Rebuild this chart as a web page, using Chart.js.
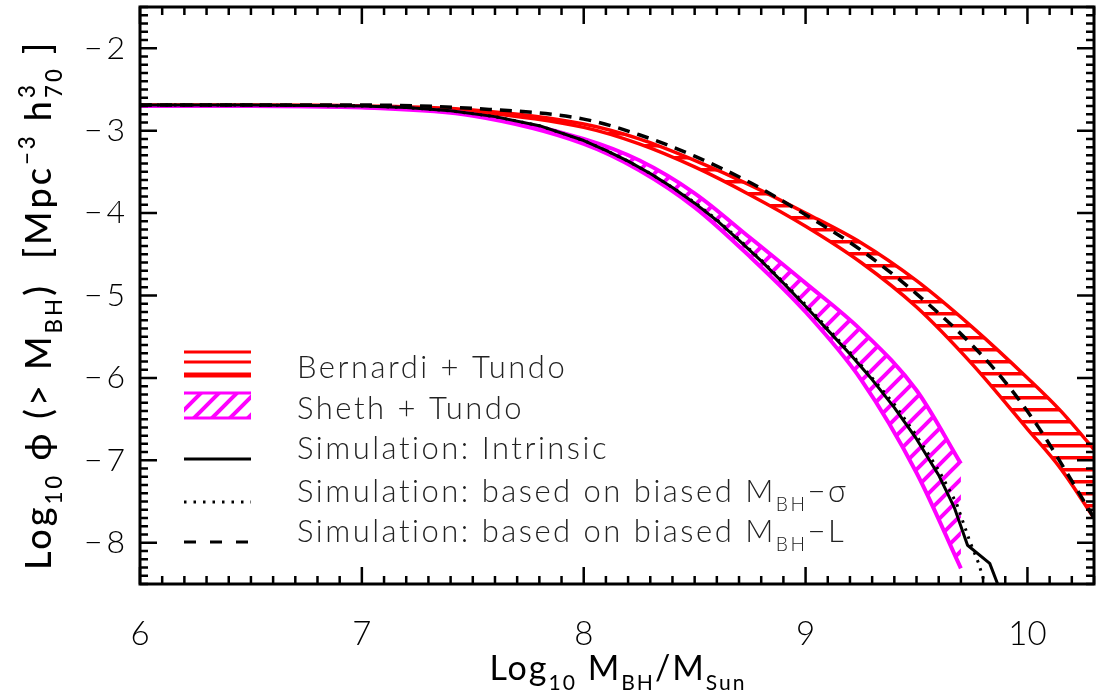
<!DOCTYPE html>
<html>
<head>
<meta charset="utf-8">
<script src="https://cdn.jsdelivr.net/npm/chart.js@4.4.1/dist/chart.umd.min.js"></script>
<style>
  html, body { margin: 0; padding: 0; background: #fff; }
  canvas { display: block; }
</style>
</head>
<body>
<canvas id="bh-mass" width="1096" height="694"></canvas>
<script>
// Bernardi + Tundo band (upper / lower edge)
const bernardiX = [6.0, 6.5, 7.0, 7.5, 8.0, 8.25, 8.5, 8.75, 9.0, 9.25, 9.5, 9.75, 10.0, 10.15, 10.3, 10.4];
const bernardiUpper = [-2.69, -2.69, -2.70, -2.75, -2.92, -3.10, -3.36, -3.66, -4.00, -4.36, -4.82, -5.38, -6.00, -6.40, -6.87, -7.20];
const bernardiLower = [-2.70, -2.70, -2.71, -2.77, -2.96, -3.16, -3.44, -3.78, -4.16, -4.60, -5.14, -5.83, -6.62, -7.10, -7.70, -8.10];

// Sheth + Tundo band
const shethX = [6.0, 6.5, 7.0, 7.5, 8.0, 8.25, 8.5, 8.75, 9.0, 9.25, 9.5, 9.7];
const shethUpper = [-2.70, -2.70, -2.71, -2.80, -3.10, -3.36, -3.76, -4.30, -4.85, -5.42, -6.15, -7.04];
const shethLower = [-2.70, -2.70, -2.72, -2.82, -3.16, -3.48, -3.93, -4.53, -5.20, -6.02, -7.15, -8.31];

// simulations
const intrinsicX = [6.0, 6.5, 7.0, 7.2, 7.4, 7.6, 7.8, 8.0, 8.1, 8.2, 8.3, 8.4, 8.5, 8.6, 8.7, 8.8, 8.9, 9.0, 9.1, 9.2, 9.3, 9.4, 9.5, 9.6, 9.67, 9.73, 9.83, 9.88];
const intrinsicY = [-2.69, -2.69, -2.70, -2.72, -2.76, -2.83, -2.94, -3.12, -3.24, -3.37, -3.52, -3.69, -3.88, -4.09, -4.33, -4.58, -4.85, -5.13, -5.42, -5.71, -6.02, -6.36, -6.74, -7.18, -7.57, -8.03, -8.25, -8.60];
const sigmaX = [6.0, 6.5, 7.0, 7.2, 7.4, 7.6, 7.8, 8.0, 8.1, 8.2, 8.3, 8.4, 8.5, 8.6, 8.7, 8.8, 8.9, 9.0, 9.1, 9.2, 9.3, 9.4, 9.5, 9.6, 9.68, 9.74, 9.78, 9.82];
const sigmaY = [-2.69, -2.69, -2.70, -2.72, -2.76, -2.83, -2.94, -3.12, -3.24, -3.37, -3.52, -3.69, -3.87, -4.08, -4.32, -4.57, -4.84, -5.11, -5.40, -5.69, -6.00, -6.32, -6.70, -7.12, -7.52, -7.98, -8.25, -8.60];
const lumX = [6.0, 6.5, 7.0, 7.5, 8.0, 8.25, 8.5, 8.75, 9.0, 9.25, 9.5, 9.75, 9.9, 10.05, 10.2, 10.3, 10.4];
const lumY = [-2.69, -2.69, -2.69, -2.73, -2.86, -3.05, -3.31, -3.63, -4.02, -4.45, -4.98, -5.60, -6.05, -6.60, -7.25, -7.70, -8.15];

const xTickValues = [6, 7, 8, 9, 10];
const yTickValues = [-8, -7, -6, -5, -4, -3, -2];

const FONT = 'Lato, "DejaVu Sans", sans-serif';

function pts(xs, ys) {
  return xs.map((x, i) => ({x: x, y: ys[i]}));
}

function hatchPattern(type, color) {
  const c = document.createElement('canvas');
  const p = c.getContext('2d');
  if (type === 'horizontal') {
    c.width = 16; c.height = 12;
    p.fillStyle = color;
    p.fillRect(0, 0, 16, 3.5);
  } else {
    const s = 18;
    c.width = s; c.height = s;
    p.strokeStyle = color;
    p.lineWidth = 4;
    p.beginPath();
    p.moveTo(-2, s + 2); p.lineTo(s + 2, -2);
    p.moveTo(-4, 4); p.lineTo(4, -4);
    p.moveTo(s - 4, s + 4); p.lineTo(s + 4, s - 4);
    p.stroke();
  }
  return c.getContext('2d').createPattern(c, 'repeat');
}

const redHatch = hatchPattern('horizontal', '#ff0000');
const magHatch = hatchPattern('diagonal', '#ff00ff');

function setFont(ctx, size, weight) {
  ctx.font = weight + ' ' + size + 'px ' + FONT;
}

// parts: {t, s: 'sub'|'sup', stack: true -> next part shares x}
function layoutRich(ctx, parts, size, weight, draw, x0, y) {
  let x = x0, stackStart = null, stackW = 0;
  for (const p of parts) {
    const fs = p.s ? size * 0.62 : size;
    const dy = p.s === 'sub' ? size * 0.3 : (p.s === 'sup' ? -size * 0.45 : 0);
    setFont(ctx, fs, weight);
    const w = ctx.measureText(p.t).width;
    if (draw) ctx.fillText(p.t, x, y + dy);
    if (p.stack) {
      stackStart = x; stackW = w;
    } else if (stackStart !== null) {
      x = Math.max(x + w, stackStart + stackW);
      stackStart = null;
    } else {
      x += w;
    }
  }
  return x - x0;
}

function drawRich(ctx, parts, x, y, size, weight, align, spacing) {
  ctx.save();
  ctx.textAlign = 'left';
  ctx.textBaseline = 'alphabetic';
  ctx.letterSpacing = (spacing || 0) + 'px';
  const total = layoutRich(ctx, parts, size, weight, false, 0, 0);
  const start = align === 'center' ? x - total / 2 : x;
  layoutRich(ctx, parts, size, weight, true, start, y);
  ctx.restore();
}

const frameAndTicks = {
  id: 'frameAndTicks',
  afterDatasetsDraw(chart) {
    const {ctx, chartArea, scales} = chart;
    const {left, right, top, bottom} = chartArea;
    ctx.save();
    ctx.strokeStyle = '#000';
    ctx.lineWidth = 2.5;
    ctx.beginPath();
    for (let i = 60; i <= 103; i++) {
      const px = scales.x.getPixelForValue(i / 10);
      const len = i % 10 === 0 ? 17 : 8;
      ctx.moveTo(px, bottom); ctx.lineTo(px, bottom - len);
      ctx.moveTo(px, top); ctx.lineTo(px, top + len);
    }
    for (let i = -85; i <= -15; i++) {
      const py = scales.y.getPixelForValue(i / 10);
      const len = i % 10 === 0 ? 17 : 8;
      ctx.moveTo(left, py); ctx.lineTo(left + len, py);
      ctx.moveTo(right, py); ctx.lineTo(right - len, py);
    }
    ctx.stroke();
    ctx.lineWidth = 3;
    ctx.strokeRect(left, top, right - left, bottom - top);
    ctx.restore();
  }
};

const titlesAndLegend = {
  id: 'titlesAndLegend',
  afterDraw(chart) {
    const {ctx} = chart;
    ctx.save();
    ctx.fillStyle = '#000';

    // x title
    drawRich(ctx, [
      {t: 'Log'}, {t: '10', s: 'sub'}, {t: ' M'}, {t: 'BH', s: 'sub'}, {t: '/M'}, {t: 'Sun', s: 'sub'}
    ], 618, 680, 34, 400, 'center', 2);

    // y title
    ctx.save();
    ctx.translate(51, 305);
    ctx.rotate(-Math.PI / 2);
    drawRich(ctx, [
      {t: 'Log'}, {t: '10', s: 'sub'}, {t: ' \u03d5 (> M'}, {t: 'BH', s: 'sub'},
      {t: ')  [Mpc'}, {t: '\u22123', s: 'sup'}, {t: ' h'}, {t: '3', s: 'sup', stack: true},
      {t: '70', s: 'sub'}, {t: ' ]'}
    ], 0, 0, 36, 500, 'center', 3);
    ctx.restore();

    // legend swatches
    const sx0 = 184, sx1 = 251;
    ctx.fillStyle = '#ff0000';
    ctx.fillRect(sx0, 350.5, sx1 - sx0, 3);
    ctx.fillRect(sx0, 360.5, sx1 - sx0, 3);
    ctx.fillRect(sx0, 372.5, sx1 - sx0, 5);

    ctx.fillStyle = magHatch;
    ctx.fillRect(sx0, 393, sx1 - sx0, 25);
    ctx.fillStyle = '#ff00ff';
    ctx.fillRect(sx0, 391.5, sx1 - sx0, 3);
    ctx.fillRect(sx0, 416.5, sx1 - sx0, 3);

    ctx.strokeStyle = '#000';
    ctx.lineWidth = 3;
    ctx.beginPath(); ctx.moveTo(sx0, 459); ctx.lineTo(sx1, 459); ctx.stroke();
    ctx.setLineDash([2.5, 7]);
    ctx.beginPath(); ctx.moveTo(sx0, 502); ctx.lineTo(sx1, 502); ctx.stroke();
    ctx.setLineDash([12, 14]);
    ctx.beginPath(); ctx.moveTo(sx0, 542); ctx.lineTo(sx1, 542); ctx.stroke();
    ctx.setLineDash([]);

    // legend text
    ctx.fillStyle = '#222';
    const lx = 297, fs = 31, sp = 2.5;
    drawRich(ctx, [{t: 'Bernardi + Tundo'}], lx, 378, fs, 300, 'left', sp);
    drawRich(ctx, [{t: 'Sheth + Tundo'}], lx, 419, fs, 300, 'left', sp);
    drawRich(ctx, [{t: 'Simulation: Intrinsic'}], lx, 459, fs, 300, 'left', sp);
    drawRich(ctx, [{t: 'Simulation: based on biased M'}, {t: 'BH', s: 'sub'}, {t: '\u2212\u03c3'}], lx, 502, fs, 300, 'left', sp);
    drawRich(ctx, [{t: 'Simulation: based on biased M'}, {t: 'BH', s: 'sub'}, {t: '\u2212L'}], lx, 542, fs, 300, 'left', sp);
    ctx.restore();
  }
};

const curveBase = {pointRadius: 0, cubicInterpolationMode: 'monotone', fill: false};
const polyBase = {pointRadius: 0, tension: 0, fill: false};

new Chart(document.getElementById('bh-mass'), {
  type: 'line',
  data: {
    datasets: [
      Object.assign({}, polyBase, {label: 'Simulation: Intrinsic', data: pts(intrinsicX, intrinsicY),
        borderColor: '#000', borderWidth: 3, borderJoinStyle: 'round'}),
      Object.assign({}, polyBase, {label: 'Simulation: based on biased MBH-sigma', data: pts(sigmaX, sigmaY),
        borderColor: '#000', borderWidth: 3, borderDash: [2.5, 6]}),
      Object.assign({}, curveBase, {label: 'Simulation: based on biased MBH-L', data: pts(lumX, lumY),
        borderColor: '#000', borderWidth: 3.5, borderDash: [12, 8]}),
      Object.assign({}, curveBase, {label: 'Sheth + Tundo (upper)', data: pts(shethX, shethUpper),
        borderColor: '#ff00ff', borderWidth: 4, fill: '+1', backgroundColor: magHatch}),
      Object.assign({}, curveBase, {label: 'Sheth + Tundo (lower)', data: pts(shethX, shethLower),
        borderColor: '#ff00ff', borderWidth: 4}),
      Object.assign({}, curveBase, {label: 'Bernardi + Tundo (upper)', data: pts(bernardiX, bernardiUpper),
        borderColor: '#ff0000', borderWidth: 3.5, fill: '+1', backgroundColor: redHatch}),
      Object.assign({}, curveBase, {label: 'Bernardi + Tundo (lower)', data: pts(bernardiX, bernardiLower),
        borderColor: '#ff0000', borderWidth: 3.5})
    ]
  },
  options: {
    responsive: false,
    animation: false,
    devicePixelRatio: 1,
    layout: {padding: {top: 7, right: 2, left: 0, bottom: 0}},
    scales: {
      x: {
        type: 'linear',
        min: 6,
        max: 10.3,
        afterFit(scale) {
          scale.height = 110;
          scale.paddingLeft = 0;
          scale.paddingRight = 0;
        },
        afterBuildTicks(scale) { scale.ticks = xTickValues.map(v => ({value: v})); },
        grid: {display: false, drawTicks: false},
        border: {display: false},
        ticks: {
          color: '#000',
          padding: 31,
          maxRotation: 0,
          font: {family: FONT, size: 33, weight: 300},
          callback: v => String(v)
        }
      },
      y: {
        type: 'linear',
        min: -8.5,
        max: -1.5,
        afterFit(scale) {
          scale.width = 140;
          scale.paddingTop = 0;
          scale.paddingBottom = 0;
        },
        afterBuildTicks(scale) { scale.ticks = yTickValues.map(v => ({value: v})); },
        grid: {display: false, drawTicks: false},
        border: {display: false},
        ticks: {
          color: '#000',
          padding: 15,
          font: {family: FONT, size: 32, weight: 300},
          callback: v => '\u2212\u2009' + Math.abs(v)
        }
      }
    },
    plugins: {
      legend: {display: false},
      tooltip: {enabled: false}
    }
  },
  plugins: [frameAndTicks, titlesAndLegend]
});
</script>
</body>
</html>
